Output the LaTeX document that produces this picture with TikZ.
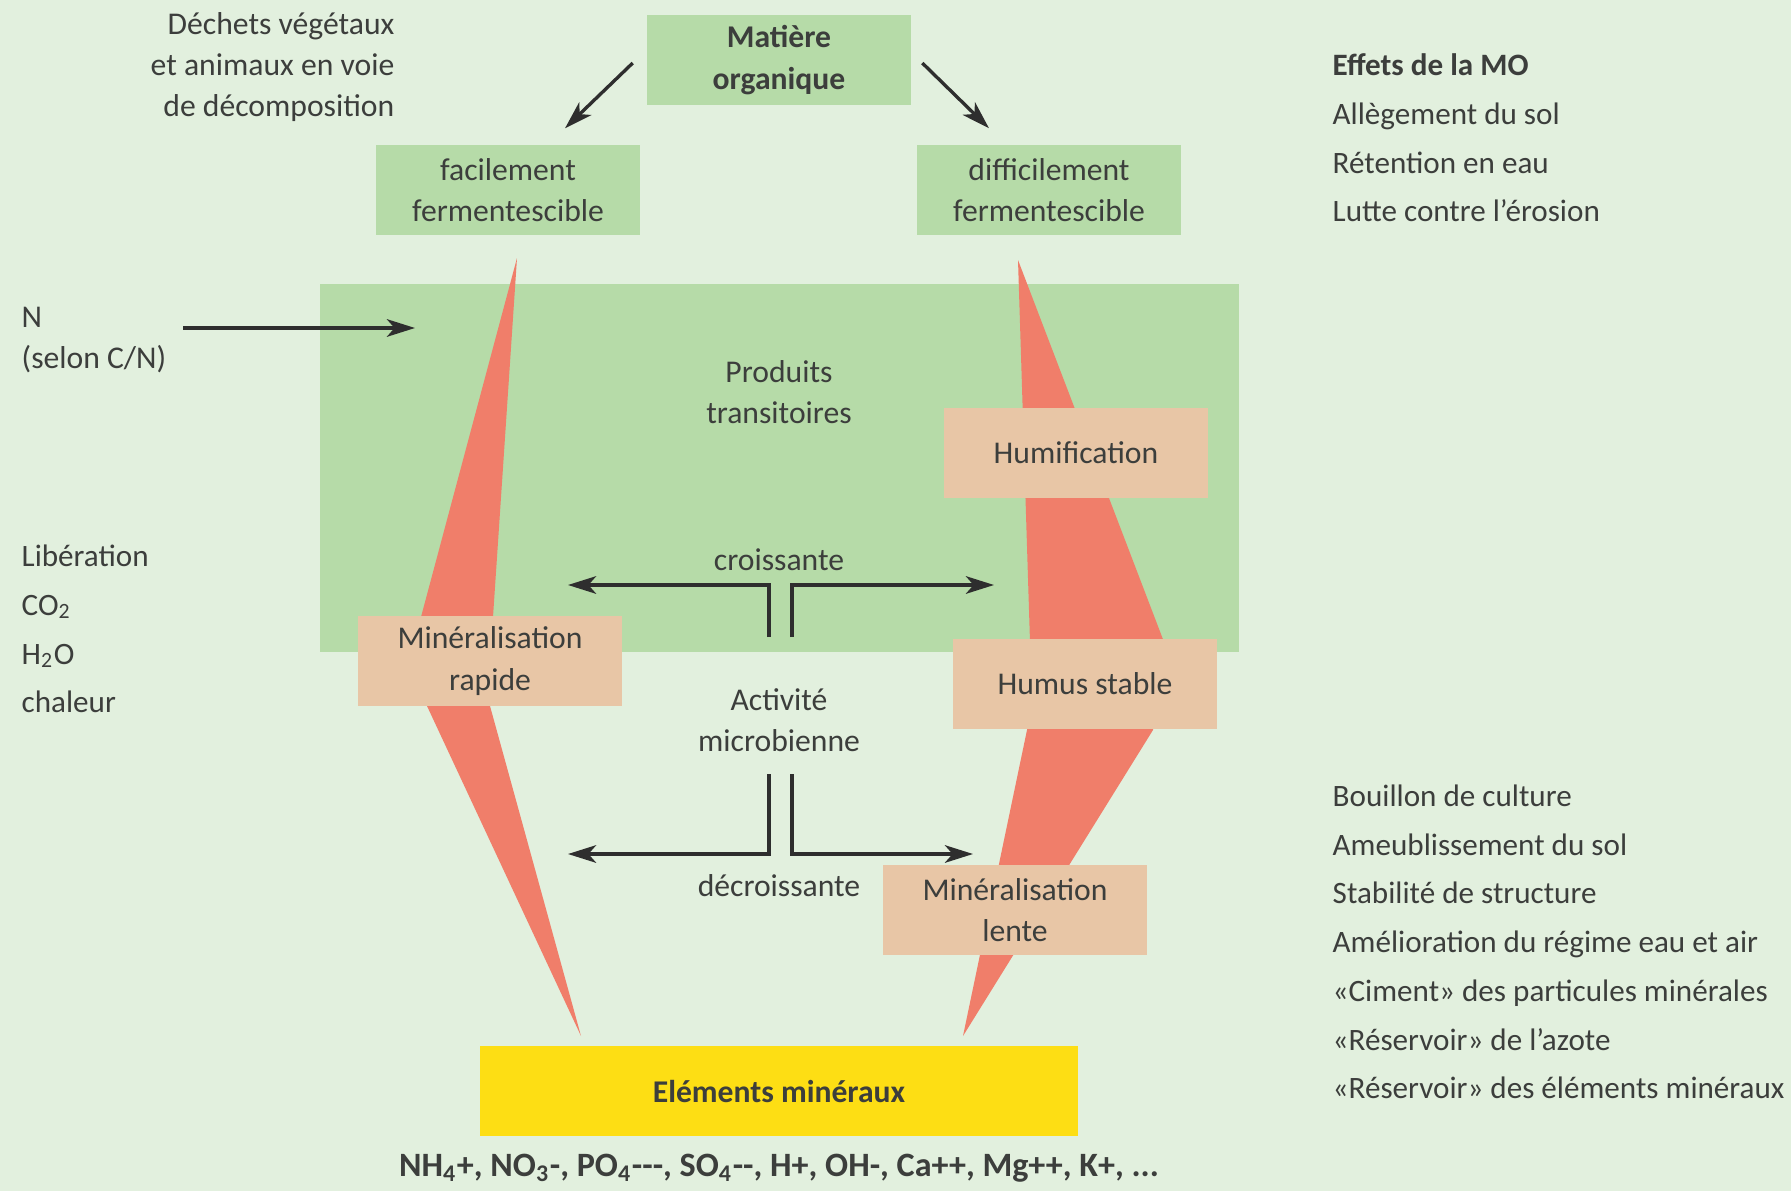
\documentclass[tikz,border=0pt]{standalone}
\usepackage{fontspec}
\setmainfont{Carlito}
\usetikzlibrary{arrows.meta,positioning,calc}

\definecolor{bgmint}{RGB}{226,240,222}
\definecolor{boxgreen}{RGB}{182,219,168}
\definecolor{wedgered}{RGB}{240,126,106}
\definecolor{boxtan}{RGB}{232,198,166}
\definecolor{boxyellow}{RGB}{253,222,20}
\definecolor{inkgray}{RGB}{60,62,60}

\begin{document}
\begin{tikzpicture}[x=0.01cm, y=-0.01cm,
    every node/.style={text=inkgray, font=\fontsize{9}{11.7}\selectfont},
    bld/.style={font=\fontsize{9}{11.7}\selectfont\bfseries},
    gbox/.style={fill=boxgreen, minimum width=2.63cm, minimum height=0.9cm, align=center, inner sep=0pt},
    tbox/.style={fill=boxtan, minimum width=2.63cm, minimum height=0.9cm, align=center, inner sep=0pt},
    lst/.style={align=left, anchor=west, inner sep=0pt, font=\fontsize{8.85}{13.85}\selectfont},
    arr/.style={-{Stealth[length=8pt, width=5pt, inset=2.2pt]}, line width=0.95pt, draw=black!82},
    wedge/.style={fill=wedgered}
]
\useasboundingbox (0,0) rectangle (1791,1191);
\fill[bgmint] (0,0) rectangle (1791,1191);

% zone des produits transitoires
\node[fill=boxgreen, minimum width=9.19cm, minimum height=3.68cm, inner sep=0pt] (trans) at (779.5,468) {};
\node[align=center] (prod) at (779,392) {Produits\\transitoires};

% coins rouges
\fill[wedge] (517,258) -- (493,617) -- (490,706) -- (581,1036) -- (427,706) -- (421,617) -- cycle;
\fill[wedge] (1018,260) -- (1164,642) -- (1153,730) -- (963,1036) -- (1027,730) -- (1030,642) -- cycle;

\node[tbox] (humif) at (1076,453) {Humification};
\node[tbox] (minrap) at (490,661) {Minéralisation\\rapide};
\node[tbox] (humst) at (1085,684) {Humus stable};
\node[tbox] (minlen) at (1015,910) {Minéralisation\\lente};

\node[gbox, bld] (mo) at (779,60) {Matière\\organique};
\node[gbox] (fac) at (508,190) {facilement\\fermentescible};
\node[gbox] (dif) at (1049,190) {difficilement\\fermentescible};
\node[gbox, bld, fill=boxyellow, minimum width=5.98cm] (elem) at (779,1091) {Eléments minéraux};
\node[font=\fontsize{9.7}{11.7}\selectfont\bfseries] (ions) at (779,1168) {NH\textsubscript{4}+, NO\textsubscript{3}-, PO\textsubscript{4}-{}-{}-, SO\textsubscript{4}-{}-, H+, OH-, Ca++, Mg++, K+, ...};

% textes libres
\node[align=right, anchor=east, inner sep=0pt] (dech) at (395,67) {Déchets végétaux\\et animaux en voie\\de décomposition};
\node[align=left, anchor=west, inner sep=0pt] (nsel) at (21,340) {N\\(selon C/N)};
\node[lst] (lib) at (21,629) {Libération\\CO\textsubscript{2}\\H\textsubscript{2}O\\chaleur};
\node[lst] (eff) at (1332,138) {\textbf{Effets de la MO}\\Allègement du sol\\Rétention en eau\\Lutte contre l'érosion};
\node[lst] (bouil) at (1332,942) {Bouillon de culture\\Ameublissement du sol\\Stabilité de structure\\Amélioration du régime eau et air\\«Ciment» des particules minérales\\«Réservoir» de l'azote\\«Réservoir» des éléments minéraux};
\node (crois) at (779,560) {croissante};
\node[align=center] (activ) at (779,720) {Activité\\microbienne};
\node (decr) at (779,886) {décroissante};

% fleches
\draw[arr] ($(mo.west)+(-14,3)$) -- ($(fac.north)+(57,-16)$);
\draw[arr] ($(mo.east)+(11,3)$) -- ($(dif.north)+(-60,-16)$);

\coordinate (nstart) at (183,328);
\coordinate (nend) at (415,328);
\draw[arr] (nstart) -- (nend);

\coordinate (cl) at (769,637);
\coordinate (cr) at (792,637);
\coordinate (clend) at (568,585);
\coordinate (crend) at (994,585);
\draw[arr] (cl) |- (clend);
\draw[arr] (cr) |- (crend);

\coordinate (dl) at (769,774);
\coordinate (dr) at (792,774);
\coordinate (dlend) at (568,854);
\coordinate (drend) at (973,854);
\draw[arr] (dl) |- (dlend);
\draw[arr] (dr) |- (drend);
\end{tikzpicture}
\end{document}
